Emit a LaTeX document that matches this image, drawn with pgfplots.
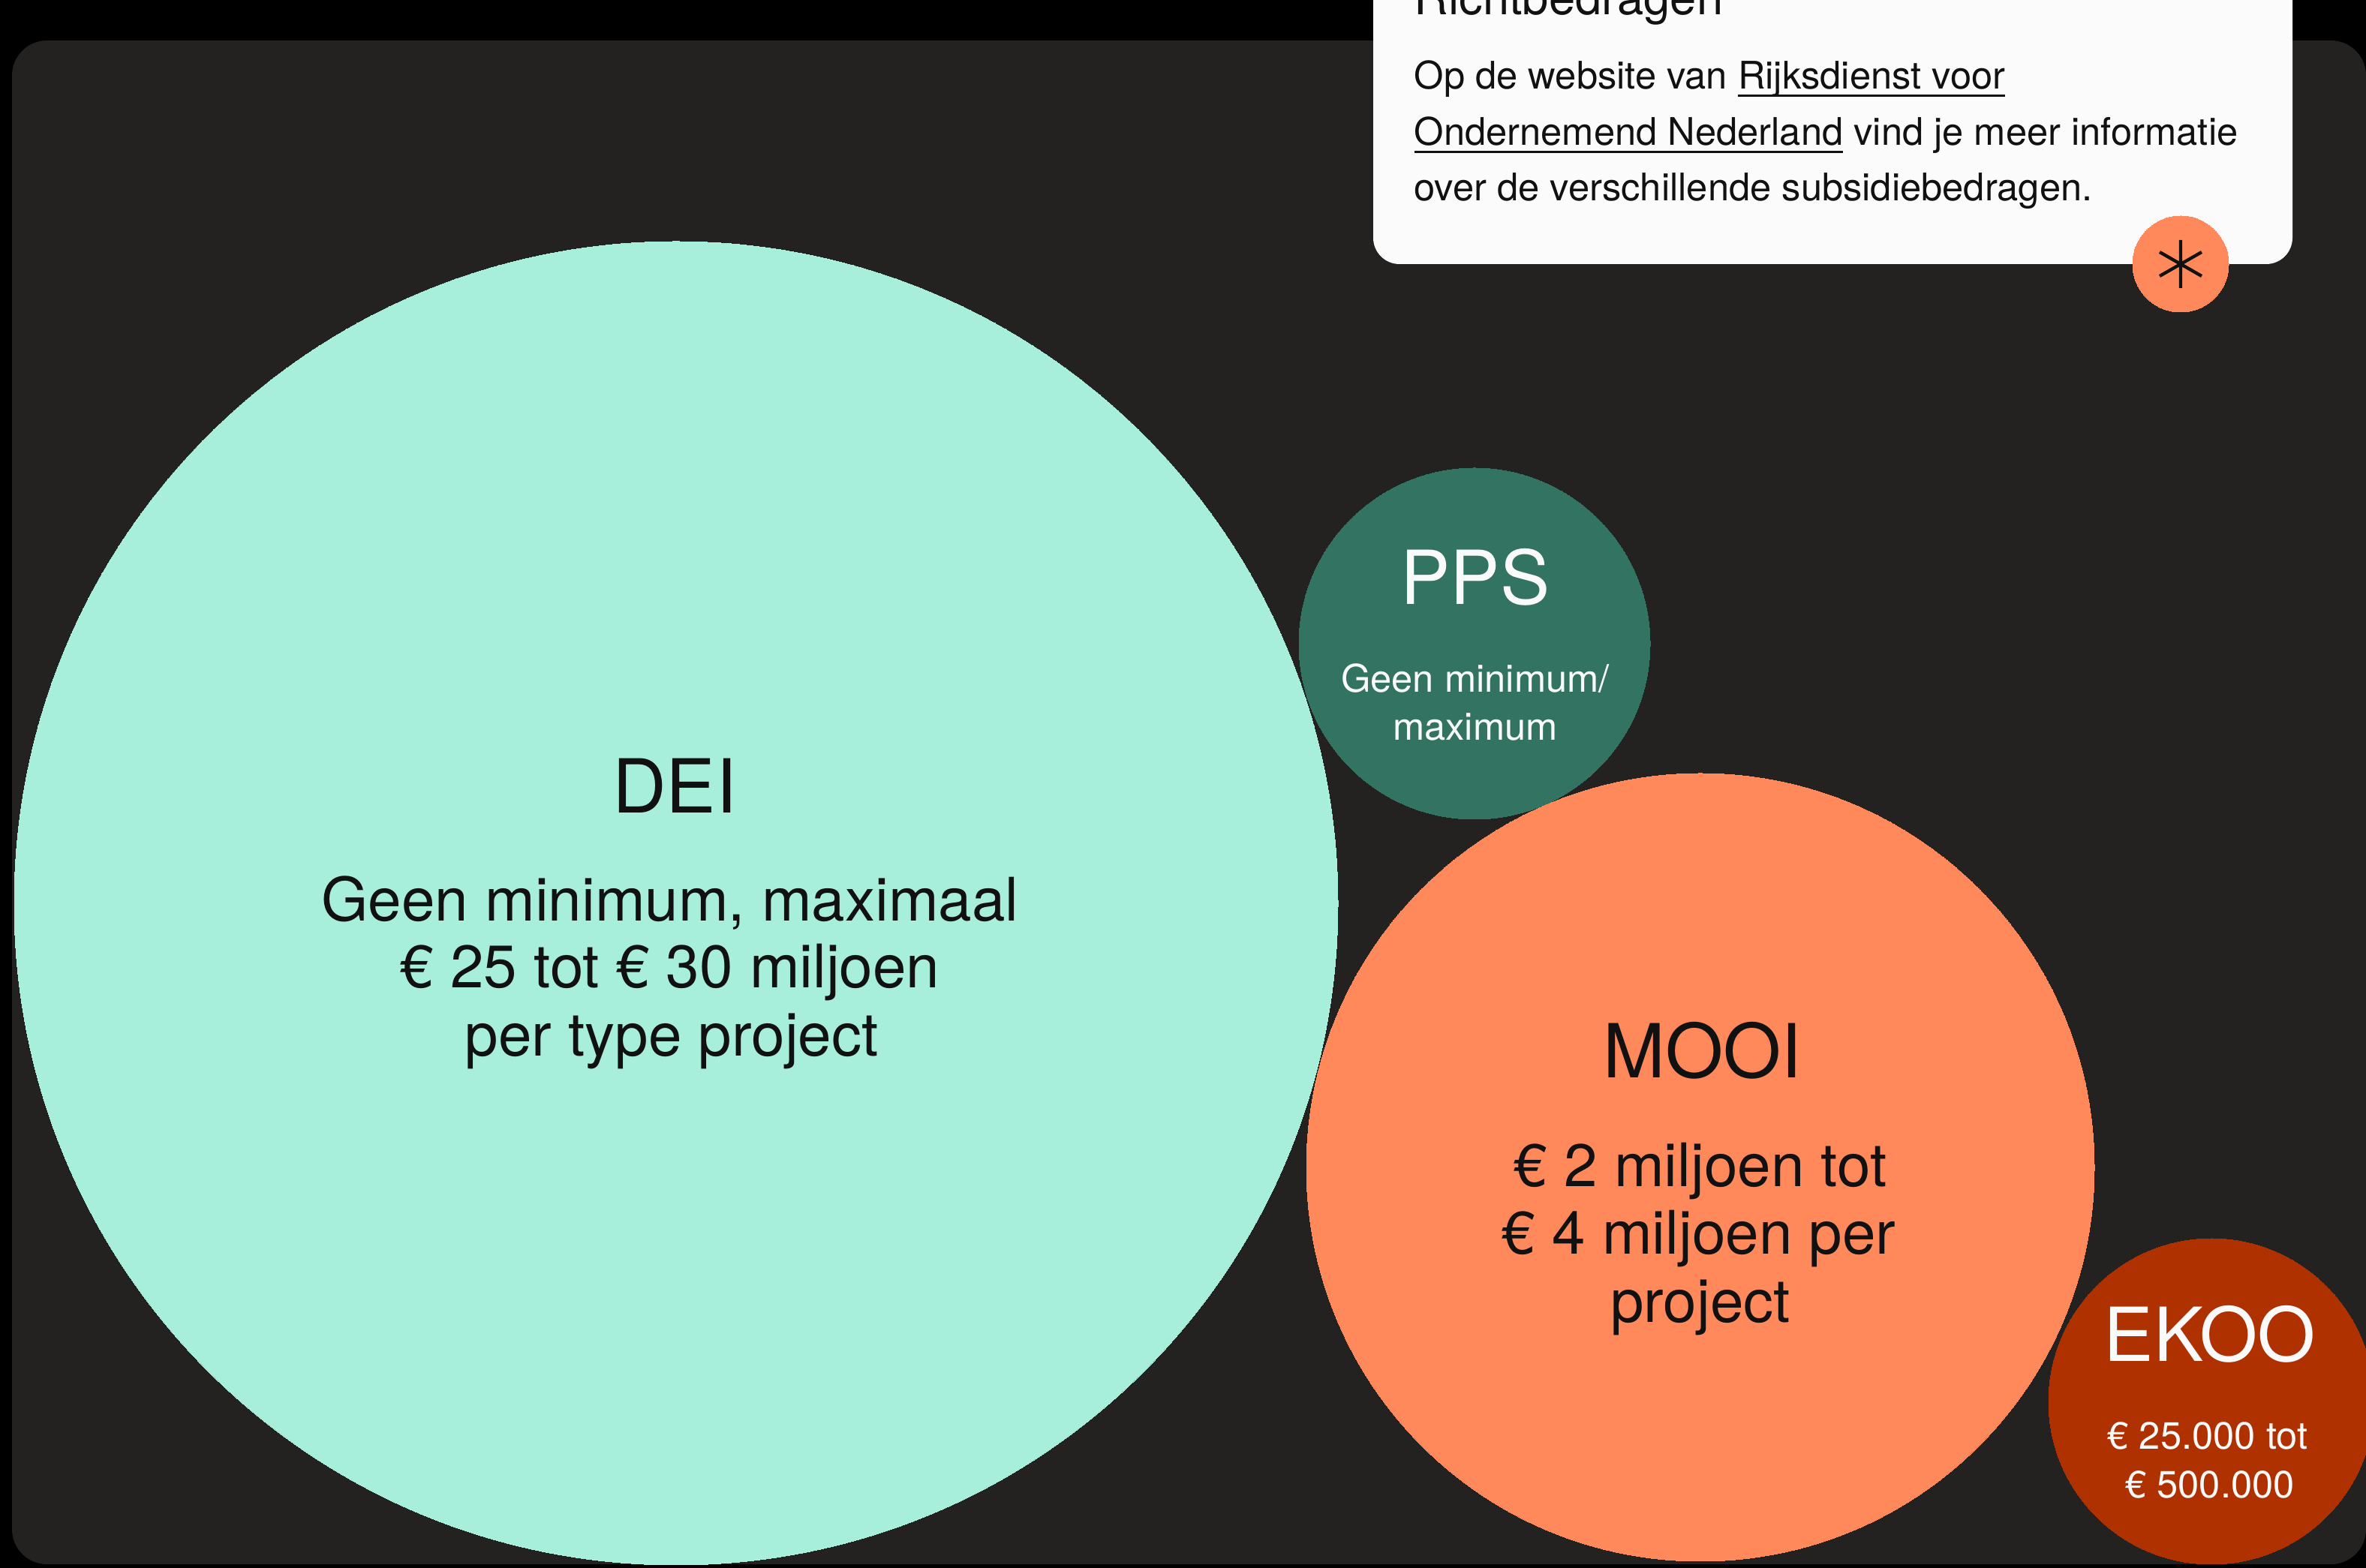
\documentclass[border=0pt]{standalone}
\usepackage{pgfplots}
\pgfplotsset{compat=1.18}
\usepackage{fontspec}
\setmainfont{TeX Gyre Heros}

\definecolor{panel}{HTML}{232221}
\definecolor{card}{HTML}{FBFBFB}
\definecolor{dei}{HTML}{A7EEDB}
\definecolor{pps}{HTML}{327362}
\definecolor{mooi}{HTML}{FF895B}
\definecolor{ekoo}{HTML}{B03100}
\definecolor{ink}{HTML}{111111}
\definecolor{paper}{HTML}{FAFAFA}

% one pixel of the reference is 0.3pt here
\newcommand{\fsName}{\fontsize{29.8}{36}\selectfont}
\newcommand{\fsBody}{\fontsize{24}{27}\selectfont}
\newcommand{\fsSmall}{\fontsize{15.2}{19}\selectfont}
\newcommand{\fsCard}{\fontsize{15.2}{22}\selectfont}
\newcommand{\fsTitle}{\fontsize{19}{22}\selectfont}
\newcommand{\linkul}[1]{\setbox0\hbox{#1}\rlap{\rule[-3pt]{\wd0}{0.8pt}}\box0{}}

\pgfplotsset{
  bubble/.style={scatter, only marks, mark=*,
    scatter/use mapped color={draw=#1, fill=#1},
    mark options={draw=#1, fill=#1, line width=0pt},
    visualization depends on={\thisrow{r}*0.3 \as \rad},
    scatter/@pre marker code/.append style={/tikz/mark size=\rad pt}},
}

\begin{document}
\begin{tikzpicture}
\begin{axis}[
    width=945.9pt, height=627pt, scale only axis,
    xmin=0, xmax=3153, ymin=0, ymax=2090,
    y dir=reverse,
    hide axis, set layers=standard,
  ]
  % background and panel
  \begin{pgfonlayer}{axis background}
  \fill[black] (axis cs:0,0) rectangle (axis cs:3153,2090);
  \fill[panel, rounded corners=14pt] (axis cs:16,54) rectangle (axis cs:3153,2085);
  \end{pgfonlayer}
  \begin{pgfonlayer}{pre main}
  \fill[card, rounded corners=10.5pt] (axis cs:1830,-150) rectangle (axis cs:3055,352);
  \end{pgfonlayer}

  % bubbles: centre and radius in pixels
  \addplot[bubble=dei] table[row sep=\\]{x y r\\ 901 1204 882\\};
  \addplot[bubble=pps] table[row sep=\\]{x y r\\ 1965 858 234\\};
  \addplot[bubble=mooi] table[row sep=\\]{x y r\\ 2266 1556 525\\};
  \addplot[bubble=ekoo] table[row sep=\\]{x y r\\ 2947 1868 217\\};
  \addplot[bubble=mooi] table[row sep=\\]{x y r\\ 2906 352 64\\};

  \begin{pgfonlayer}{axis foreground}
  % labels
  \node[anchor=base, text=ink, font=\fsName] at (axis cs:899,1084) {DEI};
  \node[anchor=base, text=ink, font=\fsBody] at (axis cs:893,1228) {Geen minimum, maximaal};
  \node[anchor=base, text=ink, font=\fsBody] at (axis cs:893,1317) {€ 25 tot € 30 miljoen};
  \node[anchor=base, text=ink, font=\fsBody] at (axis cs:895,1408) {per type project};

  \node[anchor=base, text=paper, font=\fsName] at (axis cs:1966,806) {PPS};
  \node[anchor=base, text=paper, font=\fsSmall] at (axis cs:1966,923) {Geen minimum/};
  \node[anchor=base, text=paper, font=\fsSmall] at (axis cs:1966,987) {maximum};

  \node[anchor=base, text=ink, font=\fsName] at (axis cs:2269,1437) {MOOI};
  \node[anchor=base, text=ink, font=\fsBody] at (axis cs:2266,1582) {€ 2 miljoen tot};
  \node[anchor=base, text=ink, font=\fsBody] at (axis cs:2264,1672) {€ 4 miljoen per};
  \node[anchor=base, text=ink, font=\fsBody] at (axis cs:2266,1763) {project};

  \node[anchor=base, text=paper, font=\fsName] at (axis cs:2945,1815) {EKOO};
  \node[anchor=base, text=paper, font=\fsSmall] at (axis cs:2942,1932) {€ 25.000 tot};
  \node[anchor=base, text=paper, font=\fsSmall] at (axis cs:2945,1997) {€ 500.000};

  % info card text
  \node[anchor=base west, inner sep=0, text=ink, font=\fsTitle] at (axis cs:1884,20) {Richtbedragen};
  \node[anchor=base west, inner sep=0, text=ink, font=\fsCard] at (axis cs:1884,119)
    {Op de website van \linkul{Rijksdienst voor}};
  \node[anchor=base west, inner sep=0, text=ink, font=\fsCard] at (axis cs:1884,194)
    {\linkul{Ondernemend Nederland} vind je meer informatie};
  \node[anchor=base west, inner sep=0, text=ink, font=\fsCard] at (axis cs:1884,268)
    {over de verschillende subsidiebedragen.};
  \draw[ink, line width=1.3pt] (axis cs:2906,320) -- (axis cs:2906,384)
    (axis cs:2878,336) -- (axis cs:2934,368)
    (axis cs:2878,368) -- (axis cs:2934,336);
  \end{pgfonlayer}
\end{axis}
\pgfresetboundingbox
\path (current axis.south west) rectangle (current axis.north east);
\end{tikzpicture}
\end{document}
